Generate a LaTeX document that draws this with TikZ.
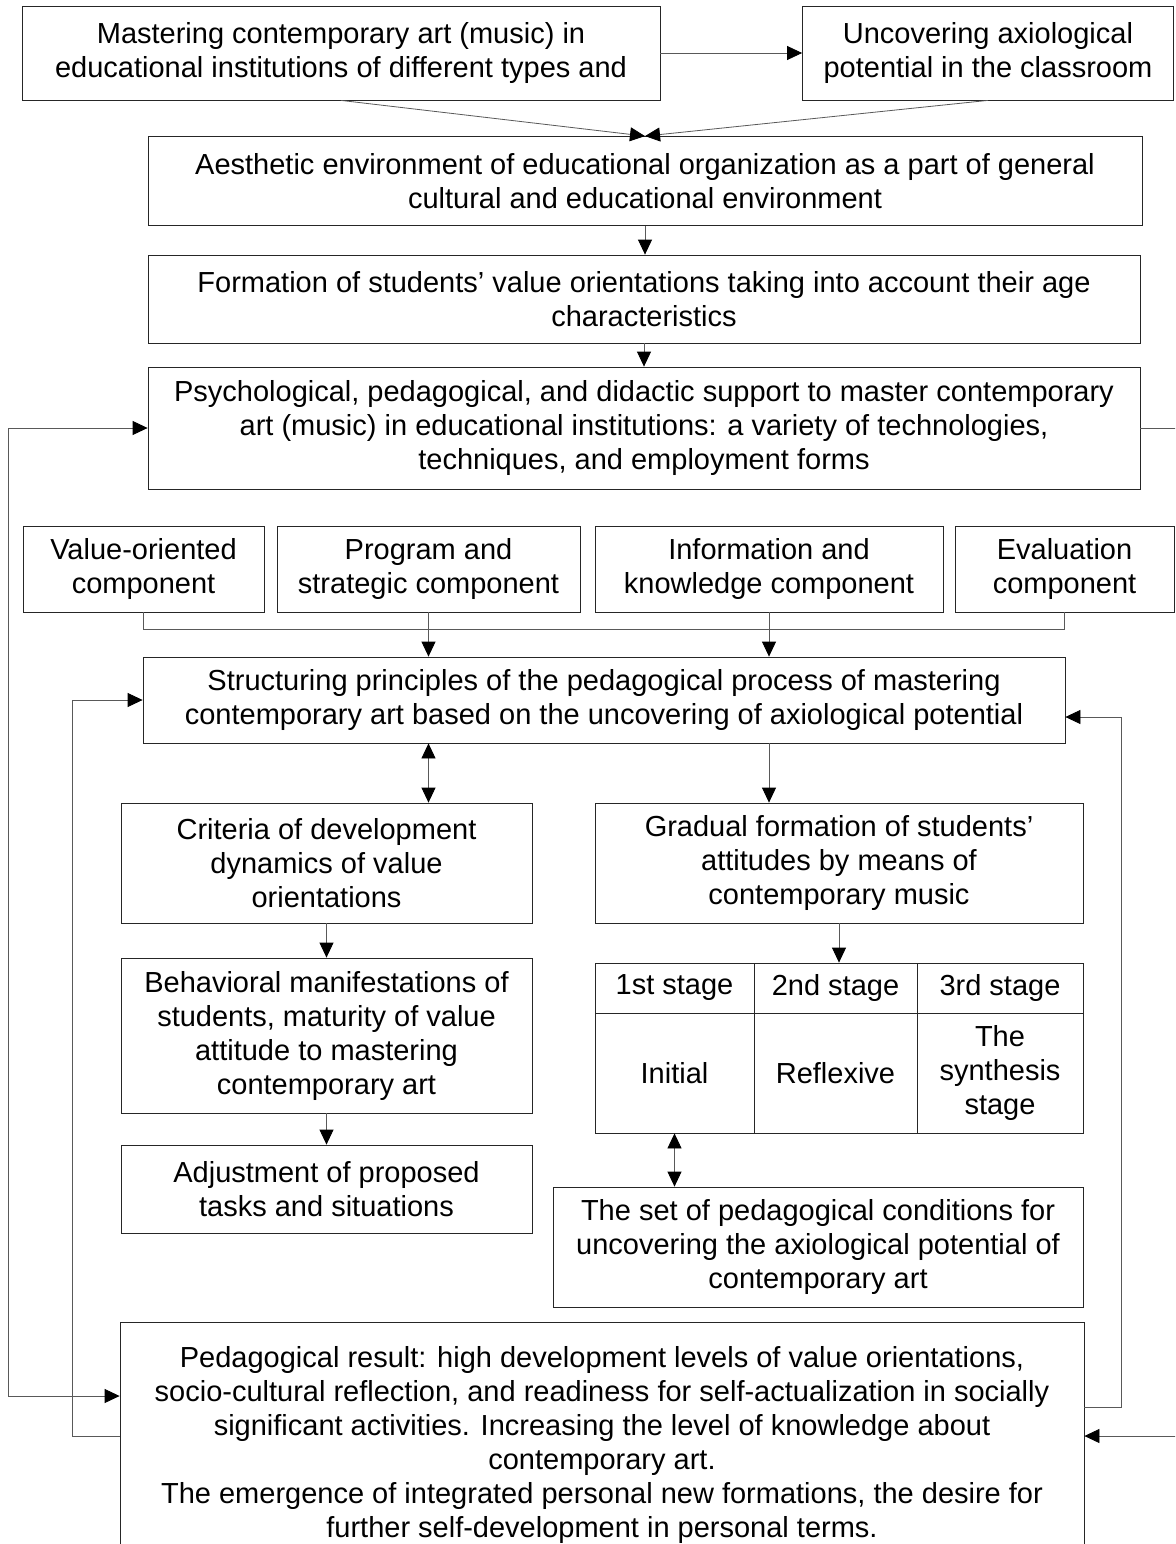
\documentclass[tikz,border=0pt]{standalone}
\usepackage{fontspec}
\setmainfont{Liberation Sans}
\usetikzlibrary{arrows.meta}

\begin{document}
\begin{tikzpicture}[x=1pt, y=-1pt,
    box/.style={draw=black!85, line width=0.8pt, align=center, inner sep=0pt,
      font=\fontsize{29}{34}\selectfont},
    link/.style={draw=black!65, line width=0.8pt},
    arr/.style={link, -{Triangle[length=15pt,width=14pt,color=black]}},
    dbl/.style={link, {Triangle[length=15pt,width=14pt,color=black]}-{Triangle[length=15pt,width=14pt,color=black]}}]
  \useasboundingbox (0,0) rectangle (1175,1544);
  \clip (0,0) rectangle (1175,1544);
  \fill[white] (0,0) rectangle (1175,1544);

  % top part
  \node[box, minimum width=638pt, minimum height=94pt] (mast) at (341,53)
    {Mastering contemporary art (music) in\\educational institutions of different types and};
  \node[box, minimum width=371pt, minimum height=94pt] (uncov) at (988,53)
    {Uncovering axiological\\potential in the classroom};
  \node[box, minimum width=994pt, minimum height=89pt] (aesth) at (645,181)
    {Aesthetic environment of educational organization as a part of general\\cultural and educational environment};
  \node[box, minimum width=992pt, minimum height=88pt] (form) at (644,299)
    {Formation of students’ value orientations taking into account their age\\characteristics};
  \node[box, minimum width=992pt, minimum height=122pt] (psych) at (644,428)
    {Psychological, pedagogical, and didactic support to master contemporary\\art (music) in educational institutions: a variety of technologies,\\techniques, and employment forms};

  % components
  \node[box, minimum width=241pt, minimum height=86pt] (value) at (143.5,569)
    {Value-oriented\\component};
  \node[box, minimum width=303pt, minimum height=86pt] (prog) at (428.5,569)
    {Program and\\strategic component};
  \node[box, minimum width=348pt, minimum height=86pt] (info) at (769,569)
    {Information and\\knowledge component};
  \node[box, minimum width=219pt, minimum height=86pt] (eval) at (1064.5,569)
    {Evaluation\\component};
  \node[box, minimum width=922pt, minimum height=86pt] (struct) at (604,700)
    {Structuring principles of the pedagogical process of mastering\\contemporary art based on the uncovering of axiological potential};

  % left column
  \node[box, minimum width=411pt, minimum height=120pt] (crit) at (326.5,863)
    {Criteria of development\\dynamics of value\\orientations};
  \node[box, minimum width=411pt, minimum height=155pt] (behav) at (326.5,1035.5)
    {Behavioral manifestations of\\students, maturity of value\\attitude to mastering\\contemporary art};
  \node[box, minimum width=411pt, minimum height=88pt] (adj) at (326.5,1189)
    {Adjustment of proposed\\tasks and situations};

  % right column
  \node[box, minimum width=488pt, minimum height=120pt] (grad) at (839,863)
    {Gradual formation of students\symbol{39}\\attitudes by means of\\contemporary music};
  \node[box, minimum width=159pt, minimum height=50pt] (s1h) at (674.5,988) {1st stage};
  \node[box, minimum width=163pt, minimum height=50pt] (s2h) at (835.5,988) {2nd stage};
  \node[box, minimum width=166pt, minimum height=50pt] (s3h) at (1000,988) {3rd stage};
  \node[box, minimum width=159pt, minimum height=120pt] (s1b) at (674.5,1073) {Initial};
  \node[box, minimum width=163pt, minimum height=120pt] (s2b) at (835.5,1073) {Reflexive};
  \node[box, minimum width=166pt, minimum height=120pt] (s3b) at (1000,1073) {The\\synthesis\\stage};
  \node[box, minimum width=530pt, minimum height=120pt] (cond) at (818,1247)
    {The set of pedagogical conditions for\\uncovering the axiological potential of\\contemporary art};

  \node[box, minimum width=964pt, minimum height=245pt] (result) at (602,1445)
    {Pedagogical result: high development levels of value orientations,\\socio-cultural reflection, and readiness for self-actualization in socially\\significant activities. Increasing the level of knowledge about\\contemporary art.\\The emergence of integrated personal new formations, the desire for\\further self-development in personal terms.};

  % connectors
  \draw[arr] (mast.east) -- (mast.east -| uncov.west);
  \draw[arr] (mast.south) -- (aesth.north);
  \draw[arr] (uncov.south) -- (aesth.north);
  \draw[arr] (aesth.south) -- (aesth.south |- form.north);
  \draw[arr] (form.south) -- (psych.north);
  \draw[link] (value.south) -- ++(0,17) -| (eval.south);
  \draw[arr] (prog.south) -- (prog.south |- struct.north);
  \draw[arr] (info.south) -- (info.south |- struct.north);
  \draw[dbl] (prog.south |- struct.south) -- (prog.south |- crit.north);
  \draw[arr] (info.south |- struct.south) -- (info.south |- grad.north);
  \draw[arr] (crit.south) -- (behav.north);
  \draw[arr] (behav.south) -- (adj.north);
  \draw[arr] (grad.south) -- (grad.south |- s2h.north);
  \draw[dbl] (s1b.south) -- (s1b.south |- cond.north);

  % feedback lines
  \coordinate (lbot) at (8,1396);
  \draw[dbl] (psych.west) -| (lbot) -- (lbot -| result.west);
  \draw[arr] (result.west |- 0,1436) -| ([xshift=-70pt]struct.west) -- (struct.west);
  \draw[arr] (result.east |- 0,1407) -| (1121,717) -- (struct.east |- 0,717);
  \draw[arr] (psych.east) -| (1182,1436) -- (result.east |- 0,1436);
\end{tikzpicture}
\end{document}
